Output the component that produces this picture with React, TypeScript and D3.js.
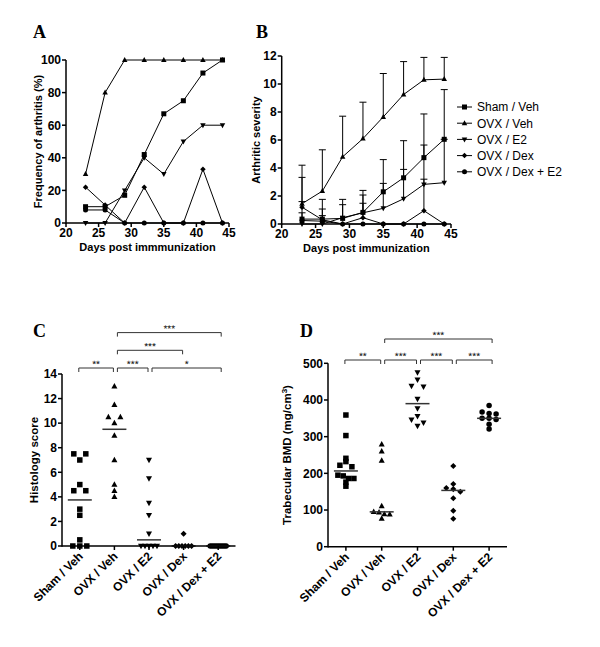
import React from "react";
import * as d3 from "d3";

const FONT = "'Liberation Sans', Arial, Helvetica, sans-serif";
const SERIF = "'Liberation Serif', 'Times New Roman', serif";

// ---------- shared ----------
const days = [23, 26, 29, 32, 35, 38, 41, 44];
const groupNames = ["Sham / Veh", "OVX / Veh", "OVX / E2", "OVX / Dex", "OVX / Dex + E2"];
const groupMarkers = ["square", "triUp", "triDown", "diamond", "circle"];

const dayTicks = [20, 25, 30, 35, 40, 45];
const freqTicks = [0, 20, 40, 60, 80, 100];
const sevTicks = [0, 2, 4, 6, 8, 10, 12];
const histoTicks = [0, 2, 4, 6, 8, 10, 12, 14];
const bmdTicks = [0, 100, 200, 300, 400, 500];

// ---------- Panel A: frequency of arthritis (%) ----------
const freqShamVeh = [10, 10, 17, 42, 67, 75, 92, 100];
const freqOvxVeh = [30, 80, 100, 100, 100, 100, 100, 100];
const freqOvxE2 = [0, 0, 20, 40, 30, 50, 60, 60];
const freqOvxDex = [22, 11, 0, 22, 0, 0, 33, 0];
const freqOvxDexE2 = [8, 8, 0, 0, 0, 0, 0, 0];

// ---------- Panel B: arthritic severity (mean + upper error) ----------
const sevShamVeh = [0.35, 0.35, 0.4, 0.83, 2.3, 3.3, 4.74, 6.05];
const sevOvxVeh = [1.45, 2.35, 4.8, 6.1, 7.65, 9.25, 10.3, 10.35];
const sevOvxE2 = [0, 0, 0.45, 0.8, 1.12, 1.8, 2.83, 2.95];
const sevOvxDex = [1.2, 0.3, 0, 0.45, 0, 0, 0.95, 0];
const sevOvxDexE2 = [0.25, 0.2, 0, 0, 0, 0, 0, 0];

const errShamVeh = [1.25, 0.72, 0.98, 1.57, 2.3, 2.65, 3.12, 3.55];
const errOvxVeh = [2.75, 2.95, 2.9, 2.6, 3.1, 2.35, 1.6, 1.55];
const errOvxE2 = [0, 0, 1.31, 1.27, 1.78, 2.1, 2.81, 3.1];
const errOvxDex = [2.13, 1.46, 0, 1.03, 0, 0, 2.25, 0];
const errOvxDexE2 = [0.55, 0.4, 0, 0, 0, 0, 0, 0];

// ---------- Panel C: histology score ----------
const histoShamVeh = [7.5, 7.5, 7.0, 5.0, 4.5, 4.5, 3.0, 2.5, 0.5, 0, 0, 0];
const histoOvxVeh = [13, 11.5, 10.5, 10.5, 10, 9, 7, 5, 4.5, 4];
const histoOvxE2 = [7, 5.5, 3.5, 2.5, 1, 0, 0, 0, 0, 0];
const histoOvxDex = [1, 0, 0, 0, 0, 0, 0];
const histoOvxDexE2 = [0, 0, 0, 0, 0, 0, 0, 0, 0];

const histoBrackets = [
  { from: 0, to: 1, level: 0, label: "**" },
  { from: 1, to: 2, level: 0, label: "***" },
  { from: 2, to: 4, level: 0, label: "*" },
  { from: 1, to: 3, level: 1, label: "***" },
  { from: 1, to: 4, level: 2, label: "***" },
];

// ---------- Panel D: trabecular BMD (mg/cm3) ----------
const bmdShamVeh = [359, 303, 241, 232, 222, 218, 195, 193, 186, 186, 176, 165];
const bmdOvxVeh = [279, 260, 235, 111, 95, 94, 89, 88, 77];
const bmdOvxE2 = [475, 455, 438, 436, 403, 377, 356, 346, 338, 329];
const bmdOvxDex = [220, 171, 160, 157, 150, 132, 98, 76];
const bmdOvxDexE2 = [385, 367, 363, 362, 350, 350, 347, 334, 321];

const bmdBrackets = [
  { from: 0, to: 1, level: 0, label: "**" },
  { from: 1, to: 2, level: 0, label: "***" },
  { from: 2, to: 3, level: 0, label: "***" },
  { from: 3, to: 4, level: 0, label: "***" },
  { from: 1, to: 4, level: 1, label: "***" },
];

// ---------- helpers ----------
function Marker({ type, x, y, s }: { type: string; x: number; y: number; s: number }) {
  switch (type) {
    case "square":
      return <rect x={x - s / 2} y={y - s / 2} width={s} height={s} fill="#000" />;
    case "triUp":
      return <path d={`M${x},${y - s * 0.6}L${x + s * 0.55},${y + s * 0.4}L${x - s * 0.55},${y + s * 0.4}Z`} fill="#000" />;
    case "triDown":
      return <path d={`M${x},${y + s * 0.6}L${x + s * 0.55},${y - s * 0.4}L${x - s * 0.55},${y - s * 0.4}Z`} fill="#000" />;
    case "diamond":
      return <path d={`M${x},${y - s * 0.55}L${x + s * 0.55},${y}L${x},${y + s * 0.55}L${x - s * 0.55},${y}Z`} fill="#000" />;
    default:
      return <circle cx={x} cy={y} r={s / 2} fill="#000" />;
  }
}

function YAxis({ scale, x, ticks }: any) {
  const [y0, y1] = scale.range();
  return (
    <g>
      <line x1={x} x2={x} y1={y0 + 0.75} y2={y1} stroke="#000" strokeWidth={1.5} />
      {ticks.map((t: number) => (
        <g key={t}>
          <line x1={x - 4} x2={x} y1={scale(t)} y2={scale(t)} stroke="#000" strokeWidth={1.5} />
          <text x={x - 5} y={scale(t)} dy="0.36em" textAnchor="end" fontWeight="bold" fontSize={12}>
            {t}
          </text>
        </g>
      ))}
    </g>
  );
}

function PanelLetter({ x, y, t }: any) {
  return (
    <text x={x} y={y} fontFamily={SERIF} fontWeight="bold" fontSize={18}>
      {t}
    </text>
  );
}

function TimeCourse({ series, errors, yDomain, yTicks, xRange, yRange, yTitle, xTitle, yTitleX }: any) {
  const x = d3.scaleLinear().domain([20, 45]).range(xRange);
  const y = d3.scaleLinear().domain(yDomain).range(yRange);
  const line = d3
    .line<number>()
    .x((_, i) => x(days[i]))
    .y((v) => y(v));
  const axisY = yRange[0];
  return (
    <g>
      {errors &&
        series.map((vals: number[], si: number) =>
          vals.map((v, i) =>
            errors[si][i] > 0 ? (
              <g key={`e${si}-${i}`} stroke="#000" strokeWidth={1}>
                <line x1={x(days[i])} x2={x(days[i])} y1={y(v)} y2={y(v + errors[si][i])} />
                <line x1={x(days[i]) - 3.5} x2={x(days[i]) + 3.5} y1={y(v + errors[si][i])} y2={y(v + errors[si][i])} />
              </g>
            ) : null
          )
        )}
      {series.map((vals: number[], si: number) => (
        <path key={`l${si}`} d={line(vals) || ""} fill="none" stroke="#000" strokeWidth={1} />
      ))}
      {series.map((vals: number[], si: number) =>
        vals.map((v, i) => <Marker key={`m${si}-${i}`} type={groupMarkers[si]} x={x(days[i])} y={y(v)} s={5} />)
      )}
      <YAxis scale={y} x={xRange[0]} ticks={yTicks} />
      <line x1={xRange[0]} x2={xRange[1]} y1={axisY} y2={axisY} stroke="#000" strokeWidth={1.5} />
      {dayTicks.map((t) => (
        <g key={t}>
          <line x1={x(t)} x2={x(t)} y1={axisY} y2={axisY + 4} stroke="#000" strokeWidth={1.5} />
          <text x={x(t)} y={axisY + 14} textAnchor="middle" fontWeight="bold" fontSize={12}>
            {t}
          </text>
        </g>
      ))}
      <text x={(xRange[0] + xRange[1]) / 2} y={axisY + 28} textAnchor="middle" fontWeight="bold" fontSize={11}>
        {xTitle}
      </text>
      <text
        transform={`translate(${yTitleX},${(yRange[0] + yRange[1]) / 2}) rotate(-90)`}
        dy="0.35em"
        textAnchor="middle"
        fontWeight="bold"
        fontSize={11}
      >
        {yTitle}
      </text>
    </g>
  );
}

function swarmOffsets(values: number[], y: (v: number) => number) {
  const pts = values.map((v, i) => ({ v, i, py: y(v), dx: 0 })).sort((a, b) => a.py - b.py);
  const clusters: any[][] = [];
  let cur: any[] = [];
  for (const p of pts) {
    if (cur.length && p.py - cur[cur.length - 1].py > 3) {
      clusters.push(cur);
      cur = [];
    }
    cur.push(p);
  }
  if (cur.length) clusters.push(cur);
  for (const c of clusters) {
    const k = c.length;
    const sp = k === 2 ? 12 : k > 1 ? Math.min(7, 16 / (k - 1)) : 0;
    c.forEach((p, j) => (p.dx = (j - (k - 1) / 2) * sp));
  }
  return pts;
}

function DotPlot({ groups, yDomain, yTicks, yRange, axisX, bandRange, brackets, bracketBase, bracketStep, yTitle, yTitleX }: any) {
  const y = d3.scaleLinear().domain(yDomain).range(yRange);
  const xb = d3.scaleBand().domain(groupNames).range(bandRange);
  const cx = (i: number) => (xb(groupNames[i]) as number) + xb.bandwidth() / 2;
  const axisY = yRange[0];
  return (
    <g>
      {brackets.map((b: any, i: number) => {
        const by = bracketBase - b.level * bracketStep;
        const x1 = cx(b.from) + (b.from === 0 ? -1 : 3);
        const x2 = cx(b.to) + (b.to === 4 ? 3 : -1);
        const mx = (x1 + x2) / 2;
        return (
          <g key={`b${i}`}>
            <path d={`M${x1},${by + 4}V${by}H${x2}V${by + 4}`} fill="none" stroke="#333" strokeWidth={1} />
            <text
              x={mx}
              y={by - 0.5}
              transform={`rotate(0.2 ${mx} ${by})`}
              textAnchor="middle"
              fontSize={10}
              fill="#111"
            >
              {b.label}
            </text>
          </g>
        );
      })}
      {groups.map((vals: number[], gi: number) => {
        const pts = swarmOffsets(vals, y);
        const med = d3.median(vals) as number;
        return (
          <g key={`g${gi}`}>
            {pts.map((p, j) => (
              <Marker key={j} type={groupMarkers[gi]} x={cx(gi) + p.dx} y={p.py} s={5.5} />
            ))}
            <line x1={cx(gi) - 12} x2={cx(gi) + 12} y1={y(med)} y2={y(med)} stroke="#333" strokeWidth={1.5} />
          </g>
        );
      })}
      <YAxis scale={y} x={axisX} ticks={yTicks} />
      <line x1={axisX} x2={bandRange[1]} y1={axisY} y2={axisY} stroke="#000" strokeWidth={1.5} />
      {groupNames.map((g, i) => (
        <g key={g}>
          <line x1={cx(i)} x2={cx(i)} y1={axisY} y2={axisY + 4} stroke="#000" strokeWidth={1.5} />
          <text
            transform={`translate(${cx(i) + 4},${axisY + 11}) rotate(-45)`}
            textAnchor="end"
            fontWeight="bold"
            fontSize={12}
          >
            {g}
          </text>
        </g>
      ))}
      <text
        transform={`translate(${yTitleX},${(yRange[0] + yRange[1]) / 2}) rotate(-90)`}
        dy="0.35em"
        textAnchor="middle"
        fontWeight="bold"
        fontSize={11.5}
      >
        {yTitle}
      </text>
    </g>
  );
}

export default function App() {
  const freqSeries = [freqShamVeh, freqOvxVeh, freqOvxE2, freqOvxDex, freqOvxDexE2];
  const sevSeries = [sevShamVeh, sevOvxVeh, sevOvxE2, sevOvxDex, sevOvxDexE2];
  const sevErrors = [errShamVeh, errOvxVeh, errOvxE2, errOvxDex, errOvxDexE2];
  const histoGroups = [histoShamVeh, histoOvxVeh, histoOvxE2, histoOvxDex, histoOvxDexE2];
  const bmdGroups = [bmdShamVeh, bmdOvxVeh, bmdOvxE2, bmdOvxDex, bmdOvxDexE2];

  return (
    <svg
      width={600}
      height={647}
      style={{ position: "absolute", left: 0, top: 0, background: "#fff" }}
      fontFamily={FONT}
    >
      <rect width={600} height={647} fill="#fff" />

      <PanelLetter x={33} y={38} t="A" />
      <TimeCourse
        series={freqSeries}
        yDomain={[0, 100]}
        yTicks={freqTicks}
        xRange={[66, 229]}
        yRange={[223, 60]}
        yTitle="Frequency of arthritis (%)"
        xTitle="Days post immmunization"
        yTitleX={38}
      />

      <PanelLetter x={256} y={38} t="B" />
      <TimeCourse
        series={sevSeries}
        errors={sevErrors}
        yDomain={[0, 12]}
        yTicks={sevTicks}
        xRange={[281.7, 451]}
        yRange={[224, 56]}
        yTitle="Arthritic severity"
        xTitle="Days post immunization"
        yTitleX={256}
      />
      <g>
        {groupNames.map((g, i) => {
          const ly = 107 + i * 16.2;
          return (
            <g key={g}>
              <line x1={457} x2={472} y1={ly} y2={ly} stroke="#000" strokeWidth={1} />
              <Marker type={groupMarkers[i]} x={464.5} y={ly} s={5} />
              <text x={477} y={ly} dy="0.36em" fontSize={12}>
                {g}
              </text>
            </g>
          );
        })}
      </g>

      <PanelLetter x={33} y={337} t="C" />
      <DotPlot
        groups={histoGroups}
        yDomain={[0, 14]}
        yTicks={histoTicks}
        yRange={[546, 374]}
        axisX={62}
        bandRange={[62.5, 235.5]}
        brackets={histoBrackets}
        bracketBase={368}
        bracketStep={17.7}
        yTitle="Histology score"
        yTitleX={34}
      />

      <PanelLetter x={300} y={337} t="D" />
      <DotPlot
        groups={bmdGroups}
        yDomain={[0, 500]}
        yTicks={bmdTicks}
        yRange={[546.7, 363.3]}
        axisX={328}
        bandRange={[328, 507]}
        brackets={bmdBrackets}
        bracketBase={360}
        bracketStep={21}
        yTitle={
          <>
            Trabecular BMD (mg/cm<tspan baselineShift="super" fontSize={8}>3</tspan>)
          </>
        }
        yTitleX={287}
      />
    </svg>
  );
}
